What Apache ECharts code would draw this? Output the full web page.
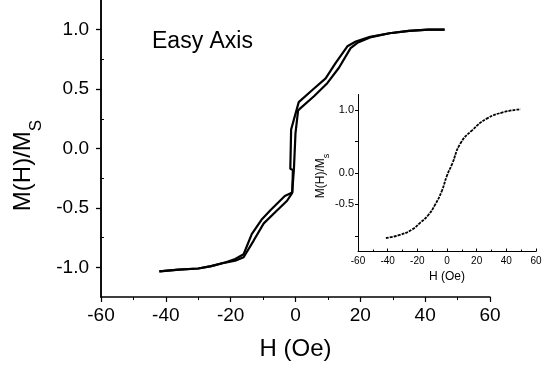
<!DOCTYPE html>
<html>
<head>
<meta charset="utf-8">
<script src="https://cdn.jsdelivr.net/npm/echarts@6.0.0/dist/echarts.min.js"></script>
<style>
html,body{margin:0;padding:0;background:#fff;}
#chart{width:545px;height:369px;}
</style>
</head>
<body>
<div id="chart"></div>
<script>
// Main panel: descending branch (field swept from +H to -H)
var descH = [46, 41, 35, 29, 23, 18.6, 16, 12.4, 9.3, 5.1, 1.0, -1.35, -1.6, -0.8, -1.0, -3.3, -7.75, -10.5, -13.5, -16, -18.6, -21.7, -26, -30, -36, -42];
var descM = [1.0, 1.0, 0.99, 0.97, 0.94, 0.90, 0.86, 0.72, 0.59, 0.49, 0.39, 0.16, -0.17, -0.18, -0.37, -0.40, -0.52, -0.60, -0.72, -0.89, -0.93, -0.96, -0.99, -1.01, -1.02, -1.035];
// Main panel: ascending branch (field swept from -H to +H)
var ascH = [-42, -36, -30, -26, -21.7, -18.6, -16, -12.9, -9.8, -6.2, -2.6, -1.05, -0.5, 0, 0.8, 1.55, 5.7, 9.8, 13.4, 17.0, 19.1, 23, 29, 35, 41, 46];
var ascM = [-1.035, -1.02, -1.01, -0.99, -0.96, -0.945, -0.915, -0.775, -0.63, -0.535, -0.44, -0.375, -0.18, 0.13, 0.32, 0.34, 0.44, 0.55, 0.68, 0.845, 0.89, 0.935, 0.97, 0.99, 1.0, 1.0];
// Inset curve
var insetH = [-41.2, -31.7, -23.5, -18, -13, -7.9, -3.4, 0, 3.4, 9, 16.9, 27.1, 38.4, 49.7];
var insetM = [-1.035, -0.985, -0.90, -0.79, -0.68, -0.50, -0.28, -0.04, 0.14, 0.47, 0.68, 0.87, 0.97, 1.015];
// Tick values
var mainYLabels = [-1, -0.5, 0, 0.5, 1];
var mainYMinor = [-0.75, -0.25, 0.25, 0.75];
var insetYLabels = [-0.5, 0, 1];
var insetYTicks = [-1, -0.5, 0, 0.5, 1];
var annotation = 'Easy Axis';

function pairs(xs, ys) { return xs.map(function (x, i) { return [x, ys[i]]; }); }

var FONT = 'Liberation Sans, Arial, Helvetica, sans-serif';
var black = '#000';
var chart = echarts.init(document.getElementById('chart'));

chart.setOption({
  animation: false,
  backgroundColor: '#fff',
  textStyle: { fontFamily: FONT, color: black },
  graphic: [{
    type: 'text', left: 152, top: 30,
    style: { text: annotation, font: '23px ' + FONT, fill: black }
  }],
  grid: [
    { left: 101, top: 0, width: 389, height: 297 },
    { left: 101, top: 0, width: 389, height: 297 },
    { left: 358, top: 94.5, width: 178, height: 157 }
  ],
  xAxis: [
    {
      gridIndex: 0, type: 'value', min: -60, max: 60, interval: 20,
      axisLine: { onZero: false, lineStyle: { color: black, width: 1.5 } },
      axisTick: { length: 5, lineStyle: { color: black, width: 1.2 } },
      minorTick: { show: true, splitNumber: 2, length: 3, lineStyle: { color: black, width: 1 } },
      splitLine: { show: false },
      axisLabel: { fontSize: 19, color: black, margin: 9, fontFamily: FONT },
      name: 'H (Oe)', nameLocation: 'middle', nameGap: 40,
      nameTextStyle: { fontSize: 24, color: black, fontFamily: FONT }
    },
    { gridIndex: 1, type: 'value', min: -60, max: 60, show: false },
    {
      gridIndex: 2, type: 'value', min: -60, max: 60, interval: 20,
      axisLine: { onZero: false, lineStyle: { color: black, width: 1 } },
      axisTick: { inside: true, length: 3, lineStyle: { color: black, width: 1 } },
      minorTick: { show: true, splitNumber: 2, length: 2, lineStyle: { color: black, width: 1 } },
      splitLine: { show: false },
      axisLabel: { fontSize: 10, color: black, margin: 5, fontFamily: FONT },
      name: 'H (Oe)', nameLocation: 'middle', nameGap: 19,
      nameTextStyle: { fontSize: 12, color: black, fontFamily: FONT }
    }
  ],
  yAxis: [
    {
      gridIndex: 0, type: 'value', min: -1.25, max: 1.25, interval: 0.25,
      axisLine: { show: true, onZero: false, lineStyle: { color: black, width: 1.5 } },
      axisTick: { show: true, customValues: mainYLabels, length: 5, lineStyle: { color: black, width: 1.3 } },
      splitLine: { show: false },
      axisLabel: {
        customValues: mainYLabels, fontSize: 19, color: black, margin: 12, fontFamily: FONT,
        formatter: function (v) { return v.toFixed(1); }
      },
      name: '{m|M(H)/M}{s|S}', nameLocation: 'middle', nameGap: 56,
      nameTextStyle: {
        padding: [0, 34, 0, 0],
        rich: {
          m: { fontSize: 24, fontFamily: FONT, color: black, verticalAlign: 'top', lineHeight: 24 },
          s: { fontSize: 17, fontFamily: FONT, color: black, verticalAlign: 'bottom', lineHeight: 34 }
        }
      }
    },
    {
      gridIndex: 1, type: 'value', min: -1.25, max: 1.25, position: 'left',
      axisLine: { show: true, onZero: false, lineStyle: { color: black, width: 1.5 } },
      axisTick: { show: true, inside: true, customValues: mainYMinor, length: 3, lineStyle: { color: black, width: 1 } },
      axisLabel: { show: true, customValues: mainYMinor, color: 'rgba(0,0,0,0)', fontSize: 1 },
      splitLine: { show: false }
    },
    {
      gridIndex: 2, type: 'value', min: -1.25, max: 1.25, interval: 0.25,
      axisLine: { show: true, onZero: false, lineStyle: { color: black, width: 1 } },
      axisTick: { customValues: insetYTicks, length: 3, lineStyle: { color: black, width: 1 } },
      splitLine: { show: false },
      axisLabel: {
        customValues: insetYLabels, fontSize: 11, color: black, margin: 4, fontFamily: FONT,
        formatter: function (v) { return v.toFixed(1); }
      },
      name: '{m|M(H)/M}{s|s}', nameLocation: 'middle', nameGap: 22,
      nameTextStyle: {
        padding: [0, 6, 0, 0],
        rich: {
          m: { fontSize: 12, fontFamily: FONT, color: black, verticalAlign: 'top', lineHeight: 12 },
          s: { fontSize: 9, fontFamily: FONT, color: black, verticalAlign: 'bottom', lineHeight: 16 }
        }
      }
    }
  ],
  series: [
    {
      name: 'descending', type: 'line', xAxisIndex: 0, yAxisIndex: 0,
      data: pairs(descH, descM), showSymbol: false, symbol: 'none',
      lineStyle: { color: black, width: 2.2 }
    },
    {
      name: 'ascending', type: 'line', xAxisIndex: 0, yAxisIndex: 0,
      data: pairs(ascH, ascM), showSymbol: false, symbol: 'none',
      lineStyle: { color: black, width: 2.2 }
    },
    {
      name: 'inset', type: 'line', xAxisIndex: 2, yAxisIndex: 2,
      data: pairs(insetH, insetM), smooth: true, showSymbol: false, symbol: 'none',
      lineStyle: { color: black, width: 1.8, type: [3, 1] }
    }
  ]
});
</script>
</body>
</html>
